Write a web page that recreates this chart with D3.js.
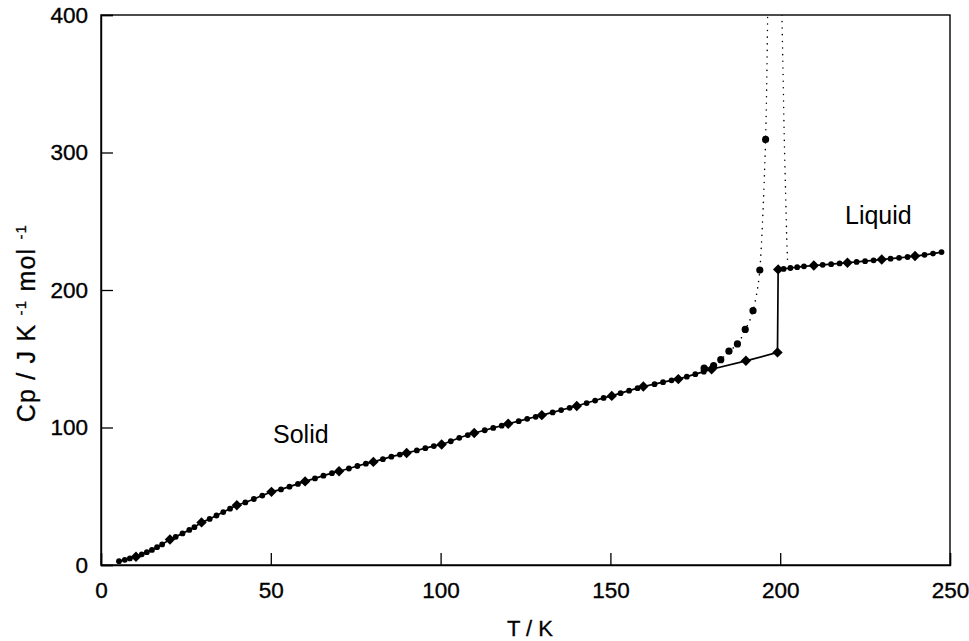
<!DOCTYPE html>
<html><head><meta charset="utf-8">
<script src="https://cdn.jsdelivr.net/npm/d3@7/dist/d3.min.js"></script>
<style>body{margin:0;background:#fff}svg{display:block}text{font-family:"Liberation Sans",Arial,sans-serif;fill:#000}</style>
</head><body><svg id="c" width="969" height="641"></svg>
<script>
// Solid phase: large diamonds
const solidDiamonds = [[10.3,6],[20.3,18.5],[29.6,31],[40,43.5],[50.2,53.2],[60.1,60.8],[70.1,68.2],[80.2,75],[90,81.5],[100.3,87.6],[109.9,96],[119.9,102.7],[129.8,109],[140.1,115.6],[150.4,123],[159.7,129.8],[170,135.2],[179.8,142.4],[189.9,148.5],[199.2,154.6]];
// Solid phase: small dots
const solidDots = [[5.3,2.8],[7,3.8],[8.5,4.8],[12,7.8],[13.5,9.3],[15,11],[16.5,13],[18,15],[22,20.5],[24,23],[26,25.5],[27.5,27.5],[32,33.5],[34,36],[36,38.5],[38,41],[42.5,45.5],[45,48],[47.5,50.5],[53,55],[55.5,57],[58,59],[63,63],[65.5,65],[68,66.8],[73,70.2],[75.5,72],[78,73.7],[83,77],[85.5,78.8],[88,80.3],[93,83.3],[95.5,85],[98,86.5],[103,90],[105.5,92.5],[108,94.5],[113,98],[115.5,99.7],[118,101.3],[123,104.6],[125.5,106.3],[128,107.8],[133,111],[135.5,112.7],[138,114.3],[143,117.8],[145.5,119.6],[148,121.5],[153,125],[155.5,126.8],[158,128.6],[163,131.5],[165.5,133],[168,134.3],[172.5,137],[175,138.8],[177.5,140.6]];
// Liquid phase
const liquidDiamonds = [[199.4,215],[209.9,217.8],[219.8,219.8],[229.9,222.2],[239.7,224.7]];
const liquidDots = [[201,215.3],[203,216],[205,216.6],[207,217.2],[212.5,218.3],[215,218.8],[217.5,219.3],[222.5,220.4],[225,221],[227.5,221.6],[232.5,222.8],[235,223.4],[237.5,224],[242.5,225.6],[245,226.5],[247.5,227.6]];
// Transition (dotted curve) measured points and branches
const transitionDots = [[177.6,143.2],[180.4,145],[182.5,149.3],[184.9,155.5],[187.4,160.8],[189.7,171.3],[192,185],[194,214.5],[195.7,309.5]];
const lambdaLeft = [[175,139.5],[178,143],[180.5,145.3],[182.5,149.3],[185,155.5],[187.5,161],[190,172.5],[191.2,179],[192.2,187],[193.2,199],[193.9,212],[194.4,230],[194.9,255],[195.3,280],[195.7,309.5],[196,345],[196.3,400]];
const lambdaRight = [[200.5,400],[200.9,350],[201.2,310],[201.6,270],[201.9,240],[202.2,218.5]];
const xTicks = [0,50,100,150,200,250];
const yTicks = [0,100,200,300,400];

const svg = d3.select("#c");
const L=101,R=950,T=15,B=565;
const x = d3.scaleLinear().domain([0,250]).range([L,R]);
const y = d3.scaleLinear().domain([0,400]).range([B,T]);
const g = svg.append("g");
g.append("defs").append("clipPath").attr("id","clip").append("rect").attr("x",L).attr("y",T).attr("width",R-L).attr("height",B-T);

// frame
g.append("rect").attr("x",L).attr("y",T).attr("width",R-L).attr("height",B-T).attr("fill","none").attr("stroke","#000").attr("stroke-width",1.4);

// axes with inward ticks
const xa = g.append("g").attr("transform",`translate(0,${B})`).call(d3.axisBottom(x).tickValues(xTicks).tickSize(-12).tickPadding(17).tickFormat(d3.format("d")));
const ya = g.append("g").attr("transform",`translate(${L},0)`).call(d3.axisLeft(y).tickValues(yTicks).tickSize(-12).tickPadding(13).tickFormat(d3.format("d")));
[xa,ya].forEach(a=>{a.select(".domain").attr("stroke","#000").attr("stroke-width",1.4);a.selectAll(".tick line").attr("stroke","#000").attr("stroke-width",1.3);a.selectAll("text").attr("font-size",22.5).attr("font-family","Liberation Sans, Arial, sans-serif").attr("fill","#000").attr("stroke","#000").attr("stroke-width",0.35);});

const plot = g.append("g").attr("clip-path","url(#clip)");
const line = d3.line().x(d=>x(d[0])).y(d=>y(d[1]));

// solid + liquid connected line
const solidAll = solidDots.concat(solidDiamonds).sort((a,b)=>a[0]-b[0]);
const liquidAll = liquidDots.concat(liquidDiamonds).sort((a,b)=>a[0]-b[0]);
const path = solidAll.concat(liquidAll);
plot.append("path").attr("d",line(path)).attr("fill","none").attr("stroke","#000").attr("stroke-width",1.7);

// dotted lambda curve
[lambdaLeft,lambdaRight].forEach(b=>{
  plot.append("path").attr("d",d3.line().curve(d3.curveCatmullRom).x(d=>x(d[0])).y(d=>y(d[1]))(b)).attr("fill","none").attr("stroke","#000").attr("stroke-width",1.5).attr("stroke-dasharray","0.1,6.5").attr("stroke-linecap","round");
});

// markers
plot.selectAll(".sd").data(solidDots.concat(liquidDots)).join("circle").attr("cx",d=>x(d[0])).attr("cy",d=>y(d[1])).attr("r",2.9).attr("fill","#000");
plot.selectAll(".td").data(transitionDots).join("circle").attr("cx",d=>x(d[0])).attr("cy",d=>y(d[1])).attr("r",3.6).attr("fill","#000");
const dsz = 5.2;
plot.selectAll(".dm").data(solidDiamonds.concat(liquidDiamonds)).join("path").attr("d",`M0,${-dsz}L${dsz},0L0,${dsz}L${-dsz},0Z`).attr("transform",d=>`translate(${x(d[0])},${y(d[1])})`).attr("fill","#000");

// labels
g.append("text").attr("x",273).attr("y",443).attr("font-size",25).text("Solid");
g.append("text").attr("x",845).attr("y",224).attr("font-size",25).text("Liquid");
g.append("text").attr("x",530).attr("y",636).attr("text-anchor","middle").attr("font-size",22).attr("stroke","#000").attr("stroke-width",0.3).text("T / K");
const yl = g.append("text").attr("transform","translate(35,323) rotate(-90)").attr("text-anchor","middle").attr("font-size",25).attr("letter-spacing",1.2).attr("stroke","#000").attr("stroke-width",0.3);
yl.append("tspan").text("Cp / J K  ");
yl.append("tspan").attr("font-size",15).attr("dy",-9).text("-1");
yl.append("tspan").attr("dy",9).text("  mol  ");
yl.append("tspan").attr("font-size",15).attr("dy",-9).text("-1");
</script></body></html>
